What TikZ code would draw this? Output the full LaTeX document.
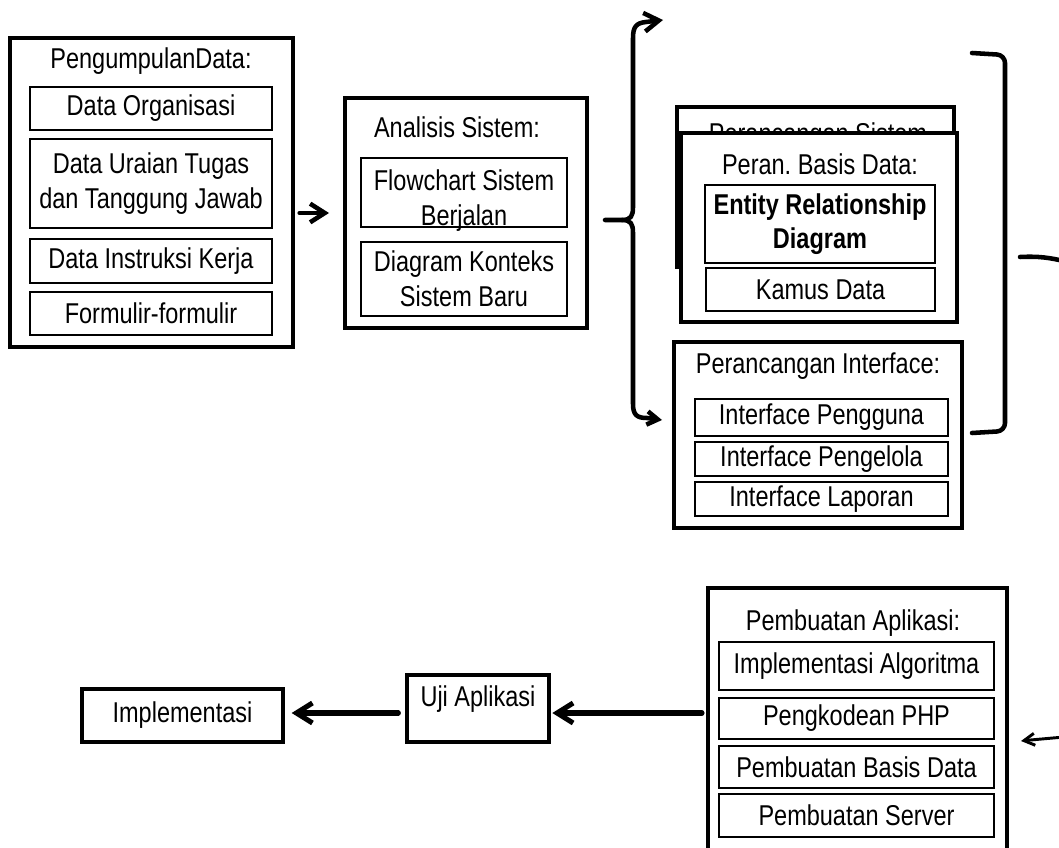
\documentclass[tikz,border=0pt]{standalone}
\usepackage{fontspec}
\setmainfont[FakeStretch=0.82]{Liberation Sans}
\usetikzlibrary{arrows.meta}

% box given by its corners, in pixel units
\newcommand{\boxpx}[7]{\node[#2, minimum width={(#5-(#3))*0.75pt}, minimum height={(#6-(#4))*0.75pt}] (#1) at ({(#3+#5)/2},{(#4+#6)/2}) {#7};}

\begin{document}
\frenchspacing
\begin{tikzpicture}[x=0.75pt,y=-0.75pt,
  every node/.style={font=\fontsize{21.5pt}{26pt}\selectfont\frenchspacing, inner sep=0pt, outer sep=0pt, align=center},
  outerbox/.style={draw, line width=3pt},
  innerbox/.style={draw, line width=2pt},
  conn/.style={line width=3.4pt, line cap=round, line join=round},
  heavyconn/.style={line width=3.8pt, line cap=round, line join=round},
  thinconn/.style={line width=2.2pt, line cap=round, line join=round},
  bigbarb/.style={-{Straight Barb[length=12pt,width=15pt]}},
  midbarb/.style={-{Straight Barb[length=11pt,width=14pt]}},
  smallbarb/.style={-{Straight Barb[length=8pt,width=10pt]}},
  tinybarb/.style={-{Straight Barb[length=8pt,width=9pt]}},
]
\useasboundingbox (0,0) rectangle (1059,848);
\clip (0,0) rectangle (1059,848);

% --- Pengumpulan Data
\boxpx{pd}{outerbox}{10}{38}{293}{347}{}
\node (pdt) at (151,61) {PengumpulanData:};
\boxpx{pd1}{innerbox}{30}{87}{272}{130}{Data Organisasi}
\boxpx{pd2}{innerbox}{30}{139}{272}{228}{Data Uraian Tugas\\dan Tanggung Jawab}
\boxpx{pd3}{innerbox}{30}{239}{272}{283}{Data Instruksi Kerja}
\boxpx{pd4}{innerbox}{30}{292}{272}{335}{Formulir-formulir}

% --- Analisis Sistem
\boxpx{an}{outerbox}{345}{98}{587}{328}{}
\node (ant) at (457,127) {Analisis Sistem:};
\boxpx{an1}{innerbox}{361}{158}{567}{227}{}
\node at ([yshift=-6pt]an1.center) {Flowchart Sistem\\Berjalan};
\draw[innerbox] (an1.south west) -- (an1.south east);
\boxpx{an2}{innerbox}{361}{242}{567}{316}{Diagram Konteks\\Sistem Baru}

% --- Perancangan Sistem (behind) and Perancangan Basis Data (front)
\boxpx{ps}{outerbox}{677}{107}{954}{267}{}
\node (pst) at (818,136) {Perancangan Sistem};
\boxpx{pb}{outerbox, fill=white}{681}{133}{957}{322}{}
\node (pbt) at (820,164) {Peran. Basis Data:};
\boxpx{pb1}{innerbox}{705}{185}{935}{263}{\bfseries Entity Relationship\\\bfseries Diagram}
\boxpx{pb2}{innerbox}{706}{268}{935}{311}{Kamus Data}

% --- Perancangan Interface
\boxpx{pi}{outerbox}{674}{342}{962}{528}{}
\node (pit) at (818,366) {Perancangan Interface:};
\boxpx{pi1}{innerbox}{695}{399}{948}{436}{Interface Pengguna}
\boxpx{pi2}{innerbox}{695}{442}{948}{476}{Interface Pengelola}
\boxpx{pi3}{innerbox}{695}{482}{948}{516}{Interface Laporan}

% --- Pembuatan Aplikasi
\boxpx{pa}{outerbox}{708}{588}{1007}{870}{}
\node (pat) at (853,623) {Pembuatan Aplikasi:};
\boxpx{pa1}{innerbox}{719}{642}{994}{690}{Implementasi Algoritma}
\boxpx{pa2}{innerbox}{719}{698}{994}{739}{Pengkodean PHP}
\boxpx{pa3}{innerbox}{719}{746}{994}{788}{Pembuatan Basis Data}
\boxpx{pa4}{innerbox}{719}{794}{994}{837}{Pembuatan Server}

% --- Uji Aplikasi and Implementasi
\boxpx{uji}{outerbox}{407}{675}{549}{742}{}
\node[below=8pt] (ujit) at (uji.north) {Uji Aplikasi};
\boxpx{impl}{outerbox}{82}{689}{283}{742}{Implementasi}

% --- connectors
\draw[conn, midbarb, shorten <=5pt, shorten >=12pt] (pd.east |- an.center) -- (an.west);

% brace from Analisis Sistem
\coordinate (bs) at (605,220);
\coordinate (bt) at (663,20);
\coordinate (bb) at (662,420);
\draw[conn, midbarb] (bs) -- (622,220) .. controls (631,220) and (633,216) .. (633,207)
  -- (633,38) .. controls (633,27) and (636,23) .. (646,22) -- (bt);
\draw[conn, smallbarb] (622,220) .. controls (631,220) and (633,224) .. (633,233)
  -- (633,404) .. controls (633,415) and (637,418) .. (647,418) -- (bb);

% bracket on the right
\coordinate (rt) at (972,53);
\coordinate (rb) at (972,433);
\draw[conn, rounded corners=6pt] (rt) -- (1005,55) -- (1005,431) -- (rb);
\coordinate (s1) at (1020,257);
\coordinate (s2) at (1064,261);
\draw[conn] (s1) .. controls (1040,256) and (1050,258) .. (s2);

% return arrow into Pembuatan Aplikasi
\coordinate (rin) at (1064,737);
\coordinate (rtip) at (1021,741);
\draw[thinconn, tinybarb] (rin) .. controls (1045,738) .. (rtip);

% bottom row
\draw[heavyconn, bigbarb, shorten <=4.5pt, shorten >=2.5pt] (pa.west |- 0,713) -- (uji.east |- 0,713);
\draw[heavyconn, bigbarb, shorten <=6.5pt, shorten >=6.5pt] (uji.west |- 0,713) -- (impl.east |- 0,713);
\end{tikzpicture}
\end{document}
